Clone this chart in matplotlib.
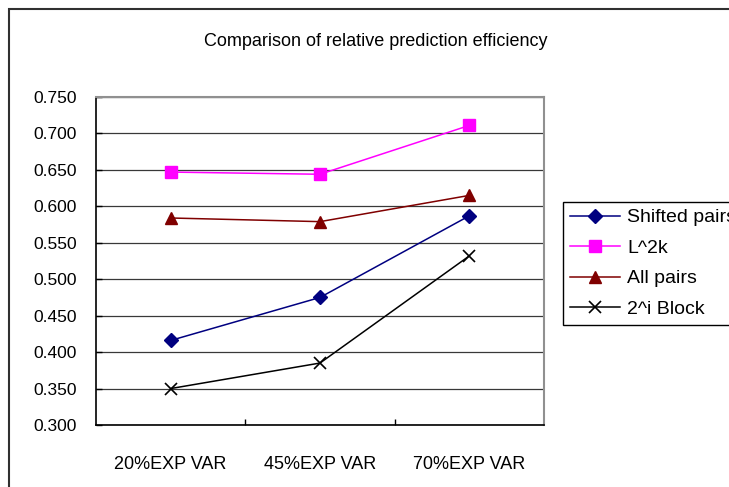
import matplotlib
matplotlib.use("Agg")
import matplotlib.pyplot as plt
from matplotlib.patches import Rectangle

plt.rcParams['font.family'] = ['Liberation Sans', 'DejaVu Sans']

# Data
categories = ['20%EXP VAR', '45%EXP VAR', '70%EXP VAR']
shifted_pairs = [0.416, 0.475, 0.587]
l_2k = [0.647, 0.644, 0.711]
all_pairs = [0.584, 0.579, 0.615]
block_2i = [0.350, 0.385, 0.532]
y_ticks = [0.300, 0.350, 0.400, 0.450, 0.500, 0.550, 0.600, 0.650, 0.700, 0.750]

W, H = 729, 487
fig = plt.figure(figsize=(W / 100, H / 100), dpi=100)

# outer chart frame (runs off the right and bottom edges)
fig.patches.append(Rectangle((9 / W, -0.1), 1.2, 1 - 9 / H + 0.1,
                             transform=fig.transFigure, fill=False,
                             edgecolor='#303030', linewidth=1.5))

ax = fig.add_axes([96 / W, 1 - 425 / H, (544 - 96) / W, (425 - 97) / H])

x = range(len(categories))
ax.plot(x, shifted_pairs, color='#000080', marker='D', markersize=7,
        linewidth=1.1, label='Shifted pairs')
ax.plot(x, l_2k, color='#FF00FF', marker='s', markersize=8,
        linewidth=1.1, label='L^2k')
ax.plot(x, all_pairs, color='#800000', marker='^', markersize=9,
        linewidth=1.1, label='All pairs')
ax.plot(x, block_2i, color='black', marker='x', markersize=8,
        markeredgewidth=1.2, linewidth=1.1, label='2^i Block')

ax.set_xlim(-0.5, 2.5)
ax.set_ylim(0.300, 0.750)
ax.set_yticks(y_ticks)
ax.set_yticklabels([f'{v:.3f}' for v in y_ticks])
ax.set_xticks(list(x))
ax.set_xticklabels(categories)
ax.set_xticks([0.5, 1.5], minor=True)

ax.yaxis.grid(True, color='#383838', linewidth=0.9)
ax.set_axisbelow(True)
ax.tick_params(axis='x', which='major', length=0, pad=22, labelsize=13)
ax.tick_params(axis='x', which='minor', direction='in', length=4, width=1)
ax.tick_params(axis='y', direction='in', length=4, width=1, pad=14, labelsize=12.5)

for side in ['left', 'bottom']:
    ax.spines[side].set_color('black')
    ax.spines[side].set_linewidth(1.2)
for side in ['top', 'right']:
    ax.spines[side].set_color('#909090')
    ax.spines[side].set_linewidth(1.5)

fig.text(376 / W, 1 - 42 / H, 'Comparison of relative prediction efficiency',
         ha='center', va='center', fontsize=13)

# legend runs off the right edge, as in the original
leg = ax.legend(loc='upper left', bbox_to_anchor=(563 / W, 1 - 202 / H),
                bbox_transform=fig.transFigure, borderaxespad=0,
                fontsize=14, frameon=True, fancybox=False, framealpha=1,
                edgecolor='black', handlelength=2.6, handletextpad=0.35,
                labelspacing=0.66, borderpad=0.35)
leg.get_frame().set_linewidth(1)

fig.savefig('out.png', dpi=100)
